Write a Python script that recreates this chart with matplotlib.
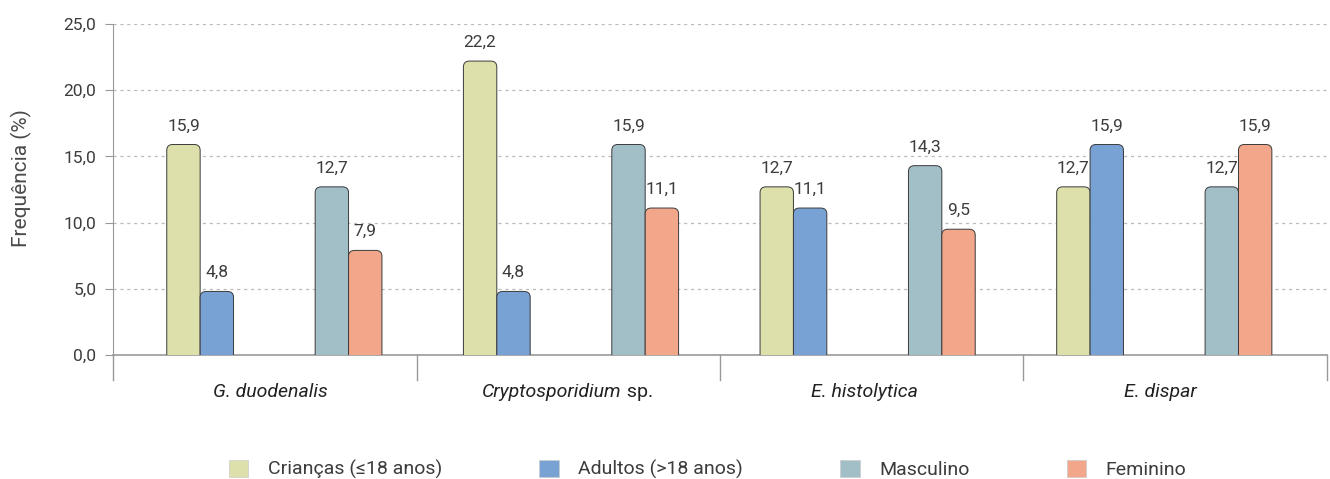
import numpy as np
import matplotlib.pyplot as plt
from matplotlib.patches import FancyBboxPatch, Patch
from matplotlib.offsetbox import TextArea, HPacker, AnnotationBbox
import matplotlib.transforms as mtransforms

# dados
especies = [("G. duodenalis", ""), ("Cryptosporidium", " sp."),
            ("E. histolytica", ""), ("E. dispar", "")]
series = ["Crianças (≤18 anos)", "Adultos (>18 anos)", "Masculino", "Feminino"]
criancas = [15.9, 22.2, 12.7, 12.7]
adultos = [4.8, 4.8, 11.1, 15.9]
masculino = [12.7, 15.9, 14.3, 12.7]
feminino = [7.9, 11.1, 9.5, 15.9]
yticks = [0, 5, 10, 15, 20, 25]

cores = ['#dde0ab', '#78a2d3', '#a2bec7', '#f2a68a']
valores = [criancas, adultos, masculino, feminino]
offsets = [-0.268, -0.158, 0.221, 0.331]
largura = 0.11
passo = 0.9775

fam = ['Roboto', 'DejaVu Sans']
plt.rcParams['font.family'] = fam
cor_txt = '#3c3c3c'

fig = plt.figure(figsize=(13.3, 4.79), dpi=100)
ax = fig.add_axes([0.085, 0.2589, 0.9127, 0.691])

ax.set_xlim(-0.5, 3.5)
ax.set_ylim(0, 25)

x = np.arange(len(especies))
for s in range(4):
    pos = x * passo + offsets[s]
    bars = ax.bar(pos, valores[s], width=largura, color=cores[s], alpha=0)
    for b, v in zip(bars, valores[s]):
        bx, bw, bh = b.get_x(), b.get_width(), b.get_height()
        p = FancyBboxPatch((bx, -1), bw, bh + 1,
                           boxstyle="round,pad=0,rounding_size=0.02",
                           mutation_aspect=22, facecolor=cores[s],
                           edgecolor='#3a3a3a', linewidth=0.7, zorder=3)
        ax.add_patch(p)
        ax.annotate(f"{v:.1f}".replace('.', ','), (bx + bw / 2, bh),
                    xytext=(0, 8), textcoords='offset points',
                    ha='center', va='bottom', fontsize=12.5, color=cor_txt)

# grade e eixos
ax.set_yticks(yticks)
ax.set_yticklabels([f"{t:.1f}".replace('.', ',') for t in yticks],
                   fontsize=12.5, color=cor_txt)
ax.tick_params(axis='y', length=6, color='#999999', pad=6)
ax.set_xticks([])
for t in yticks[1:]:
    ax.axhline(t, color='#bbbbbb', lw=0.9, ls=(0, (2.5, 3)), zorder=1)
for sp in ['top', 'right']:
    ax.spines[sp].set_visible(False)
ax.spines['left'].set_color('#999999')
ax.spines['bottom'].set_color('#999999')
ax.spines['bottom'].set_linewidth(1.2)

trans = mtransforms.blended_transform_factory(ax.transData, ax.transAxes)
for sep in np.arange(-0.5, 4.0, 1.0):
    ax.plot([sep, sep], [0, -0.0755], transform=trans, color='#999999',
            lw=1, clip_on=False)

ax.set_ylabel("Frequência (%)", fontsize=15, color='#4a4a4a')
ax.yaxis.set_label_coords(-0.0665, 0.535)

# rótulos das espécies
for i, (it, reg) in enumerate(especies):
    partes = [TextArea(it, textprops=dict(fontsize=14, style='italic',
                                          color='#222222', family=fam))]
    if reg:
        partes.append(TextArea(reg, textprops=dict(fontsize=14,
                                                   color='#222222', family=fam)))
    box = HPacker(children=partes, align='baseline', pad=0, sep=0)
    ab = AnnotationBbox(box, (i * passo + 0.02, -0.113), xycoords=trans,
                        frameon=False, box_alignment=(0.5, 0.5),
                        annotation_clip=False)
    ax.add_artist(ab)

handles = [Patch(facecolor=c, edgecolor='#cccccc', linewidth=0.5) for c in cores]
fig.legend(handles, series, loc='center', bbox_to_anchor=(0.532, 0.019),
           ncol=4, frameon=False, fontsize=14, handlelength=1.0,
           handleheight=0.9, handletextpad=1.0, columnspacing=5.0,
           labelcolor=cor_txt)

fig.savefig('out.png', dpi=100)
